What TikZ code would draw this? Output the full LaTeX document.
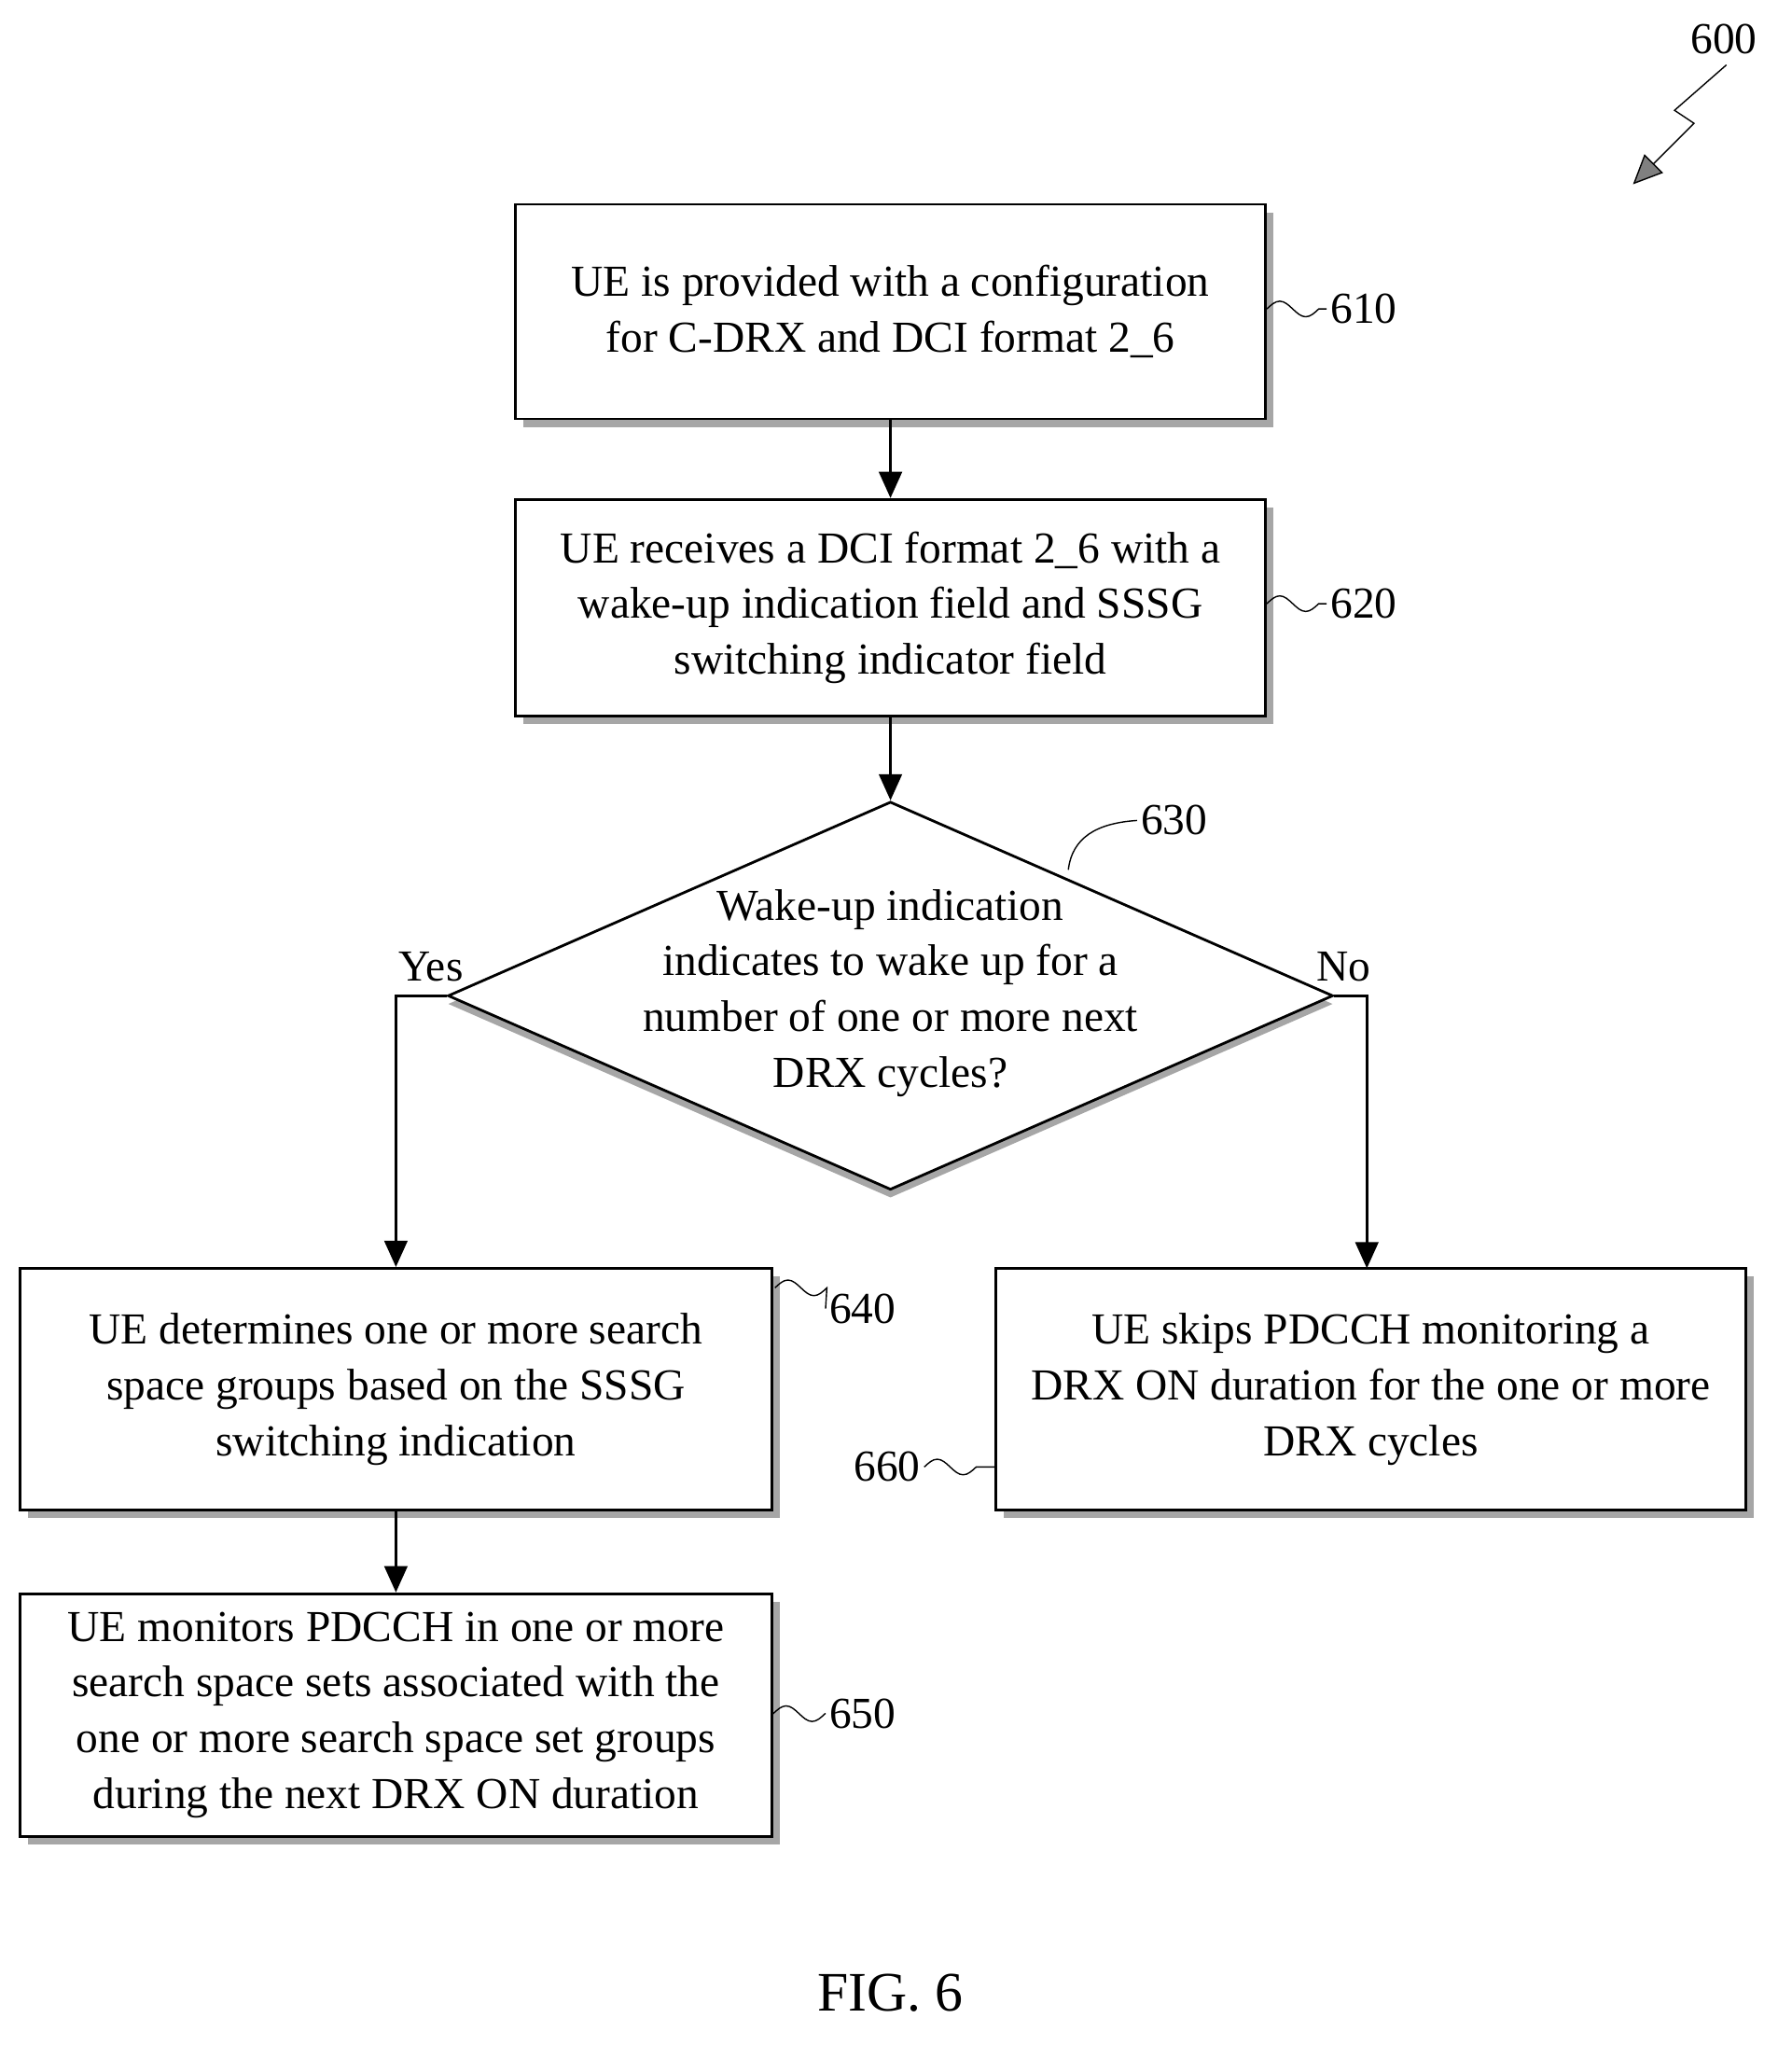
\documentclass[tikz,border=0pt]{standalone}
\usepackage{fontspec}
\setmainfont{Liberation Serif}
\usetikzlibrary{shapes.geometric, shadows, arrows.meta}
\tikzset{
  procbox/.style={draw, thick, fill=white, align=center, inner sep=2pt,
    font=\fontsize{13.5}{17}\selectfont,
    drop shadow={shadow xshift=2.5pt, shadow yshift=-2.5pt, fill=gray!70, opacity=1}},
  flow/.style={thick, -{Triangle[length=8pt, width=7pt]}},
  ref/.style={font=\fontsize{13.5}{17}\selectfont, inner sep=1pt},
  squig/.style={thin}
}
\begin{document}
\begin{tikzpicture}[x=0.013913cm, y=-0.013913cm]
  \useasboundingbox (0,0) rectangle (1380,1576);
  % process boxes
  \node[procbox, minimum width=8.04cm, minimum height=2.3cm] (s610) at (686,240)
    {UE is provided with a configuration\\for C-DRX and DCI format 2\_6};
  \node[procbox, minimum width=8.04cm, minimum height=2.32cm] (s620) at (686,468)
    {UE receives a DCI format 2\_6 with a\\wake-up indication field and SSSG\\switching indicator field};
  \node[diamond, draw, thick, fill=white, inner sep=0pt, minimum width=9.49cm, minimum height=4.16cm,
    drop shadow={shadow xshift=0pt, shadow yshift=-2.5pt, fill=gray!70, opacity=1}] (s630) at (686,767) {};
  \node[align=center, font=\fontsize{13.5}{17}\selectfont] (q630) at (686,765)
    {Wake-up indication\\indicates to wake up for a\\number of one or more next\\DRX cycles?};
  \node[procbox, minimum width=8.06cm, minimum height=2.59cm] (s640) at (305,1070)
    {UE determines one or more search\\space groups based on the SSSG\\switching indication};
  \node[procbox, minimum width=8.04cm, minimum height=2.59cm] (s660) at (1056,1070)
    {UE skips PDCCH monitoring a\\DRX ON duration for the one or more\\DRX cycles};
  \node[procbox, minimum width=8.06cm, minimum height=2.6cm] (s650) at (305,1321)
    {UE monitors PDCCH in one or more\\search space sets associated with the\\one or more search space set groups\\during the next DRX ON duration};
  % connectors
  \draw[flow] (s610) -- (s620);
  \draw[flow] (s620) -- (s630);
  \draw[flow] (s630.west) -- (305,767) -- (s640.north);
  \draw[flow] (s630.east) -- (1053,767) -- (1053,977);
  \draw[flow] (s640) -- (s650);
  \node[ref] (yes) at (332,745) {Yes};
  \node[ref] (no) at (1035,745) {No};
  % reference numerals
  \node[ref, anchor=west] (n610) at (1022,238) {610};
  \draw[squig] (s610.east |- n610) sin +(10,-6) cos +(10,6) sin +(10,6) cos +(10,-6) -- (n610.west);
  \node[ref, anchor=west] (n620) at (1022,465) {620};
  \draw[squig] (s620.east |- n620) sin +(10,-6) cos +(10,6) sin +(10,6) cos +(10,-6) -- (n620.west);
  \node[ref, anchor=west] (n640) at (636,1008) {640};
  \draw[squig] (597,992) sin +(10,-6) cos +(10,6) sin +(10,6) cos +(10,-6) -- (n640.west);
  \node[ref, anchor=east] (n660) at (712,1130) {660};
  \draw[squig] (n660.east) sin +(10,-6) cos +(10,6) sin +(10,6) cos +(10,-6) -- (s660.west |- n660);
  \node[ref, anchor=west] (n650) at (636,1320) {650};
  \draw[squig] (s650.east |- n650) sin +(10,-6) cos +(10,6) sin +(10,6) cos +(10,-6) -- (n650.west);
  \node[ref, anchor=west] (n630) at (876,632) {630};
  \draw[squig] (823,670) .. controls (826,645) and (845,634) .. (n630.west);
  \node[ref] (n600) at (1328,30) {600};
  \coordinate (a600) at (1258,142);
  \draw[thin, -{Triangle[length=9pt, width=8pt, fill=gray]}] (1330,50) -- (1290,85) -- (1305,95) -- (a600);
  \node[font=\fontsize{17}{20}\selectfont] (fig) at (686,1535) {FIG. 6};
\end{tikzpicture}
\end{document}
